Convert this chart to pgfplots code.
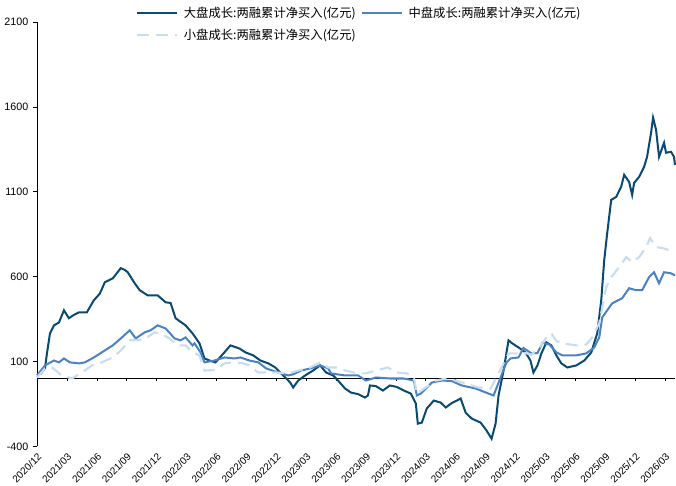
\documentclass[border=0pt]{standalone}
\usepackage{pgfplots}
\pgfplotsset{compat=1.18}
\usepackage{fontspec}
\setmainfont{Liberation Sans}
\newfontfamily\cjk{Noto Sans CJK SC}
\definecolor{cDark}{HTML}{0B4A70}
\definecolor{cMid}{HTML}{4A82C3}
\definecolor{cLight}{HTML}{C9DDF0}
\begin{document}
\begin{tikzpicture}
\begin{axis}[
  scale only axis,
  width=477pt, height=317pt,
  xmin=0, xmax=64.05,
  ymin=-400, ymax=2100,
  ytick={-400,100,600,1100,1600,2100},
  xtick={0,3,...,63},
  xticklabels={2020/12,2021/03,2021/06,2021/09,2021/12,2022/03,2022/06,2022/09,2022/12,2023/03,2023/06,2023/09,2023/12,2024/03,2024/06,2024/09,2024/12,2025/03,2025/06,2025/09,2025/12,2026/03},
  x tick label style={rotate=45, anchor=north east, font=\fontsize{7.5}{8}\selectfont, inner sep=1pt},
  y tick label style={font=\fontsize{8}{9}\selectfont},
  /pgf/number format/assume math mode=true,
  /pgf/number format/set thousands separator={},
  axis x line=bottom,
  x axis line style={draw=none},
  axis y line=left,
  y axis line style={-, black, line width=0.6pt},
  x tick style={draw=none},
  y tick style={black, line width=0.6pt},
  tick align=outside,
  major tick length=3pt,
  clip=false,
  legend style={draw=none, fill=none, at={(0.155,1.043)}, anchor=north west,
    font=\cjk\fontsize{9.2}{10}\selectfont, column sep=2pt, row sep=3pt,
    inner sep=0pt},
  legend columns=2,
  legend cell align=left,
  legend image code/.code={\draw[#1] (0pt,0pt) -- (30pt,0pt);},
]
% zero line with quarterly ticks
\addplot[black, line width=0.6pt, forget plot] coordinates {(0,0) (64.05,0)};
\addplot[ycomb, black, line width=0.5pt, no marks, forget plot] coordinates {
(0,-16)(3,-16)(6,-16)(9,-16)(12,-16)(15,-16)(18,-16)(21,-16)(24,-16)(27,-16)(30,-16)
(33,-16)(36,-16)(39,-16)(42,-16)(45,-16)(48,-16)(51,-16)(54,-16)(57,-16)(60,-16)(63,-16)};
% large cap
\addplot[cDark, line width=1.5pt, no marks] coordinates {
(0.0,18)(0.4,30)(0.8,60)(1.0,150)(1.3,266)(1.7,313)(2.2,330)(2.7,402)(3.2,355)(3.7,375)
(4.2,390)(5.0,390)(5.7,461)(6.3,500)(6.8,567)(7.6,590)(8.4,650)(8.8,640)(9.1,626)(9.8,561)
(10.3,520)(11.1,490)(12.1,490)(12.9,449)(13.4,445)(13.9,355)(14.9,313)(15.6,266)(16.3,207)(16.8,118)
(17.3,106)(17.9,95)(18.8,154)(19.4,195)(20.3,177)(20.9,154)(21.7,136)(22.4,106)(23.2,89)(23.9,65)
(24.7,18)(25.4,-24)(25.7,-53)(26.2,-12)(26.9,18)(27.7,47)(28.4,77)(29.0,35)(29.7,18)(30.2,-12)
(30.9,-59)(31.5,-83)(32.2,-92)(32.9,-112)(33.2,-100)(33.4,-41)(34.0,-45)(34.7,-71)(35.4,-41)(36.1,-50)
(36.8,-71)(37.5,-89)(38.0,-148)(38.2,-266)(38.6,-260)(39.1,-177)(39.8,-130)(40.5,-142)(41.0,-171)(41.6,-145)
(42.5,-118)(43.0,-201)(43.6,-236)(44.5,-260)(45.1,-307)(45.6,-355)(46.0,-266)(46.3,-100)(46.8,47)(47.3,225)
(47.6,210)(48.3,183)(49.0,154)(49.5,106)(49.8,35)(50.2,77)(50.6,148)(51.1,213)(51.6,195)(52.1,136)
(52.6,89)(53.2,65)(54.1,77)(54.9,106)(55.6,154)(56.2,266)(56.6,461)(56.9,697)(57.2,857)(57.6,1052)
(58.1,1070)(58.6,1129)(58.9,1200)(59.4,1158)(59.7,1082)(59.9,1152)(60.4,1188)(60.9,1247)(61.2,1306)(61.6,1448)
(61.8,1537)(62.1,1466)(62.4,1306)(62.9,1389)(63.1,1330)(63.6,1336)(63.9,1306)(64.0,1259)};
\addlegendentry{大盘成长:两融累计净买入(亿元)}
% mid cap
\addplot[cMid, line width=1.5pt, no marks] coordinates {
(0.0,18)(0.8,77)(1.7,106)(2.2,95)(2.7,118)(3.3,95)(4.2,89)(4.8,95)(5.7,124)(6.5,154)
(7.6,195)(8.4,236)(9.3,284)(9.9,236)(10.8,272)(11.4,284)(12.1,313)(12.9,295)(13.8,236)(14.4,225)
(14.9,242)(15.6,195)(15.8,207)(16.4,154)(16.8,95)(17.8,106)(18.8,124)(19.8,118)(20.4,124)(21.3,106)
(22.2,95)(23.0,59)(24.2,35)(25.2,18)(25.7,25)(26.5,47)(27.4,59)(28.4,77)(29.2,60)(29.5,30)
(30.9,18)(32.2,18)(33.0,-12)(34.0,6)(35.4,0)(36.8,0)(37.8,-12)(38.1,-100)(38.5,-89)(39.6,-24)
(40.6,-12)(41.6,-15)(42.6,-41)(44.0,-59)(45.3,-89)(45.8,-100)(46.5,6)(47.1,95)(47.5,118)(48.3,124)
(48.8,180)(49.6,148)(50.2,150)(50.7,210)(51.4,200)(52.1,154)(52.7,136)(54.1,136)(55.1,148)(55.9,183)
(56.4,242)(56.7,360)(57.7,443)(58.7,473)(59.4,532)(60.1,520)(60.7,520)(61.4,597)(61.9,626)(62.4,561)
(62.9,626)(63.6,620)(64.0,608)};
\addlegendentry{中盘成长:两融累计净买入(亿元)}
% small cap
\addplot[cLight, line width=1.6pt, dash pattern=on 9pt off 5pt, no marks] coordinates {
(0.0,6)(0.8,59)(1.5,65)(2.5,18)(3.5,0)(4.5,35)(5.5,77)(6.5,95)(7.6,124)(8.4,165)
(9.3,225)(10.1,225)(10.9,236)(11.8,272)(12.4,265)(13.3,236)(14.1,195)(14.9,195)(15.6,154)(16.3,136)
(16.8,47)(17.9,50)(18.8,89)(19.6,95)(20.6,90)(21.3,77)(22.2,35)(24.0,35)(25.2,30)(26.2,47)
(27.4,65)(28.4,95)(29.2,65)(30.2,65)(30.9,47)(32.2,30)(33.0,30)(34.0,47)(35.2,65)(36.1,35)
(37.1,30)(37.8,6)(38.1,-89)(39.0,-53)(40.0,-12)(41.1,0)(42.0,-12)(43.0,-30)(44.3,-53)(45.5,-59)
(46.3,30)(46.8,89)(47.3,148)(48.0,148)(49.0,150)(49.6,140)(50.4,183)(51.1,242)(51.6,266)(52.1,220)
(52.7,207)(54.1,195)(55.1,200)(55.7,242)(56.4,325)(57.1,538)(57.6,597)(58.4,656)(59.1,715)(59.7,686)
(60.4,715)(61.1,774)(61.5,827)(62.1,774)(62.8,768)(63.4,756)(63.9,768)};
\addlegendentry{小盘成长:两融累计净买入(亿元)}
\end{axis}
\path (current axis.north west) ++(0,16.5pt) coordinate (bbtop);
\end{tikzpicture}
\end{document}
